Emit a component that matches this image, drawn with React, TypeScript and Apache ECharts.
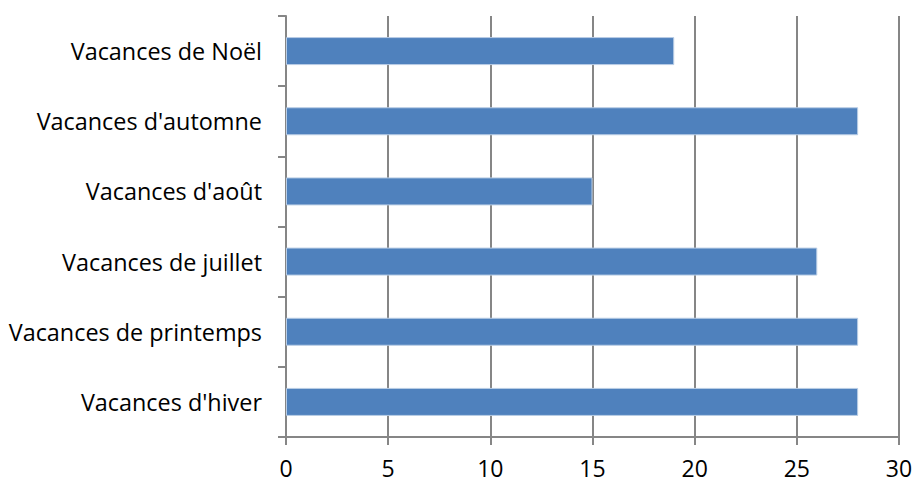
import React, { useEffect, useRef } from "react";
import * as echarts from "echarts";

const categories = [
  "Vacances d'hiver",
  "Vacances de printemps",
  "Vacances de juillet",
  "Vacances d'août",
  "Vacances d'automne",
  "Vacances de Noël",
];
const values = [28, 28, 26, 15, 28, 19];
const xMin = 0;
const xMax = 30;
const xInterval = 5;

export default function App() {
  const ref = useRef<HTMLDivElement>(null);
  useEffect(() => {
    if (!ref.current) return;
    const chart = echarts.init(ref.current, undefined, { renderer: "svg" });
    const grey = "#868686";
    chart.setOption({
      animation: false,
      backgroundColor: "#ffffff",
      grid: { left: 286, right: 17, top: 16, bottom: 46, containLabel: false },
      xAxis: {
        type: "value",
        min: xMin,
        max: xMax,
        interval: xInterval,
        axisLine: { show: true, lineStyle: { color: grey, width: 2 } },
        axisTick: { show: true, length: 8, lineStyle: { color: grey, width: 2 } },
        splitLine: { show: true, lineStyle: { color: grey, width: 2 } },
        axisLabel: {
          margin: 19,
          color: "#000",
          fontFamily: "Open Sans",
          fontSize: 23,
        },
      },
      yAxis: {
        type: "category",
        data: categories,
        axisLine: { show: true, lineStyle: { color: grey, width: 2 } },
        axisTick: { show: true, length: 8, lineStyle: { color: grey, width: 2 } },
        axisLabel: {
          margin: 24,
          color: "#000",
          fontFamily: "Open Sans",
          fontSize: 23.4,
        },
      },
      series: [
        {
          type: "bar",
          data: values,
          barWidth: 28,
          itemStyle: { color: "#4F81BD", borderColor: "#B9CDE5", borderWidth: 1 },
        },
      ],
    });
    return () => chart.dispose();
  }, []);
  return <div ref={ref} style={{ width: 916, height: 483, position: "absolute", left: 0, top: 0 }} />;
}
